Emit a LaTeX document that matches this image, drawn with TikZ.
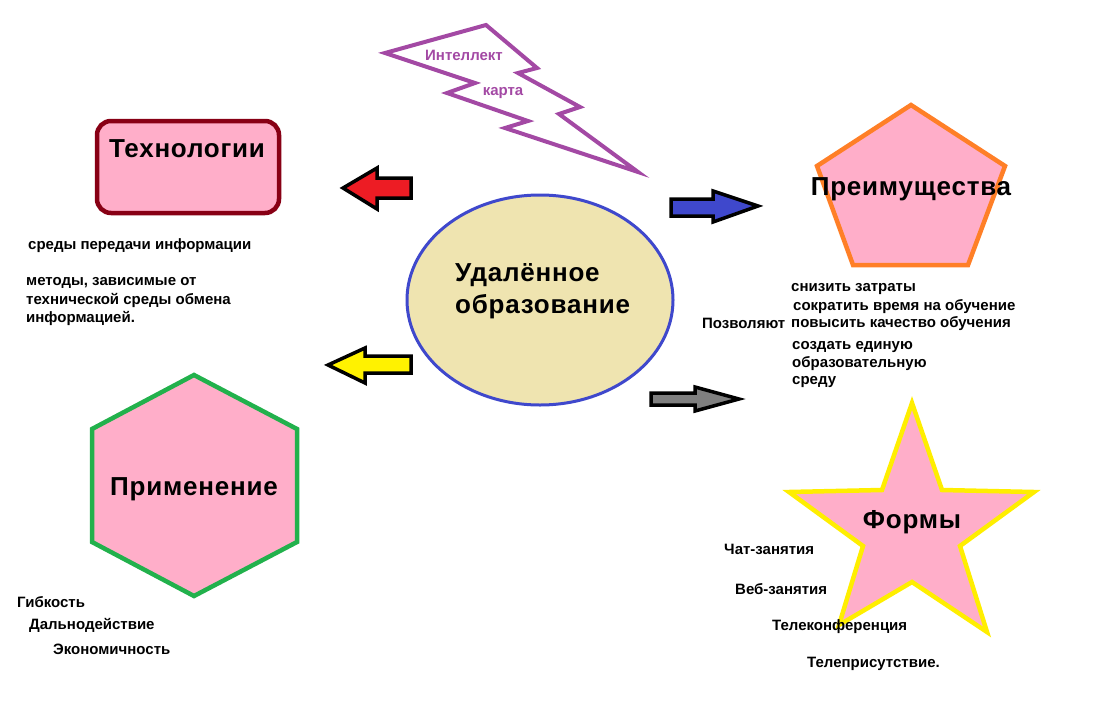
\documentclass[tikz,border=0pt]{standalone}
\usepackage{fontspec}
\setmainfont{Liberation Sans}
\newfontfamily\titlefont[LetterSpace=3]{Liberation Sans}
\definecolor{pinkfill}{HTML}{FFAEC9}
\definecolor{darkred}{HTML}{880015}
\definecolor{purp}{HTML}{A349A4}
\definecolor{redA}{HTML}{ED1C24}
\definecolor{blueA}{HTML}{3F48CC}
\definecolor{yellowA}{HTML}{FFF200}
\definecolor{grayA}{HTML}{7F7F7F}
\definecolor{orangeA}{HTML}{FF7F27}
\definecolor{greenA}{HTML}{22B14C}
\definecolor{ellfill}{HTML}{EFE4B0}
\definecolor{starY}{HTML}{FFEE00}
\tikzset{
  shapeline/.style={line width=4.5pt, line join=miter, fill=pinkfill},
  blockarrow/.style={draw=black, line width=3.5pt, line join=miter},
  title/.style={font=\titlefont\fontsize{26}{29}\selectfont\bfseries, inner sep=0pt},
  small/.style={font=\fontsize{15}{17}\selectfont\bfseries, anchor=west, inner sep=0pt},
}
\begin{document}
\begin{tikzpicture}[x=1pt,y=-1pt]
\useasboundingbox (0,0) rectangle (1105,704);
% lightning
\draw[purp, line width=4pt, line join=miter]
  (385,53) -- (486,25) -- (537,68) -- (518,73) -- (580,107) -- (559,114) -- (638,172)
  -- (505,128) -- (528,121) -- (447,93) -- (475,83) -- cycle;
\node[small, anchor=center, text=purp] (intel) at (464,55) {Интеллект};
\node[small, anchor=center, text=purp] (karta) at (503,93) {карта};
% Технологии
\draw[shapeline, draw=darkred, rounded corners=14pt] (97,121) rectangle (279,213);
\node[title] (tech) at (187,149) {Технологии};
% Применение
\draw[shapeline, draw=greenA] (194,375) -- (297,429) -- (297,542) -- (194,596) -- (92,542) -- (92,429) -- cycle;
\node[title] (prim) at (194,489) {Применение};
% Преимущества
\draw[shapeline, draw=orangeA] (911,105) -- (1005,166) -- (968,265) -- (853,265) -- (817,166) -- cycle;
\node[title] (preim) at (911,189) {Преимущества};
% Star
\draw[shapeline, draw=starY] (912,403) -- (942,490) -- (1034,492) -- (960,546) -- (987,632)
  -- (912,582) -- (839,625) -- (863,546) -- (789,492) -- (882,490) -- cycle;
\node[title] (form) at (912,522) {Формы};
% ellipse
\draw[draw=blueA, fill=ellfill, line width=3pt] (540,300) ellipse [x radius=133, y radius=105];
\node[title, anchor=west, align=left] (udal) at (455,275) {Удалённое};
\node[title, anchor=west, align=left] (obr) at (455,307) {образование};
% arrows
\draw[blockarrow, fill=redA] (343,188) -- (377,168) -- (377,178) -- (411,178) -- (411,198) -- (377,198) -- (377,209) -- cycle;
\draw[blockarrow, fill=yellowA] (328,365) -- (365,348) -- (365,356) -- (411,356) -- (411,373) -- (365,373) -- (365,383) -- cycle;
\draw[blockarrow, fill=blueA] (758,206) -- (713,191) -- (713,199) -- (671,199) -- (671,216) -- (713,216) -- (713,222) -- cycle;
\draw[blockarrow, fill=grayA] (739,399) -- (695,387) -- (695,393) -- (651,393) -- (651,405) -- (695,405) -- (695,411) -- cycle;
% texts left
\node[small] (t1) at (28,246) {среды передачи информации};
\node[small] (t2) at (26,283) {методы, зависимые от};
\node[small] (t3) at (26,300) {технической среды обмена};
\node[small] (t4) at (26,318) {информацией.};
% texts right
\node[small] (p1) at (791,289) {снизить затраты};
\node[small] (p2) at (793,307) {сократить время на обучение};
\node[small] (p3) at (791,324) {повысить качество обучения};
\node[small] (pz) at (702,323) {Позволяют};
\node[small] (p4) at (792,347) {создать единую};
\node[small] (p5) at (792,364) {образовательную};
\node[small] (p6) at (792,382) {среду};
% forms
\node[small] (f1) at (724,549) {Чат-занятия};
\node[small] (f2) at (735,589) {Веб-занятия};
\node[small] (f3) at (772,627) {Телеконференция};
\node[small] (f4) at (807,664) {Телеприсутствие.};
% applications
\node[small] (a1) at (17,602) {Гибкость};
\node[small] (a2) at (29,625) {Дальнодействие};
\node[small] (a3) at (53,649) {Экономичность};
\end{tikzpicture}
\end{document}
